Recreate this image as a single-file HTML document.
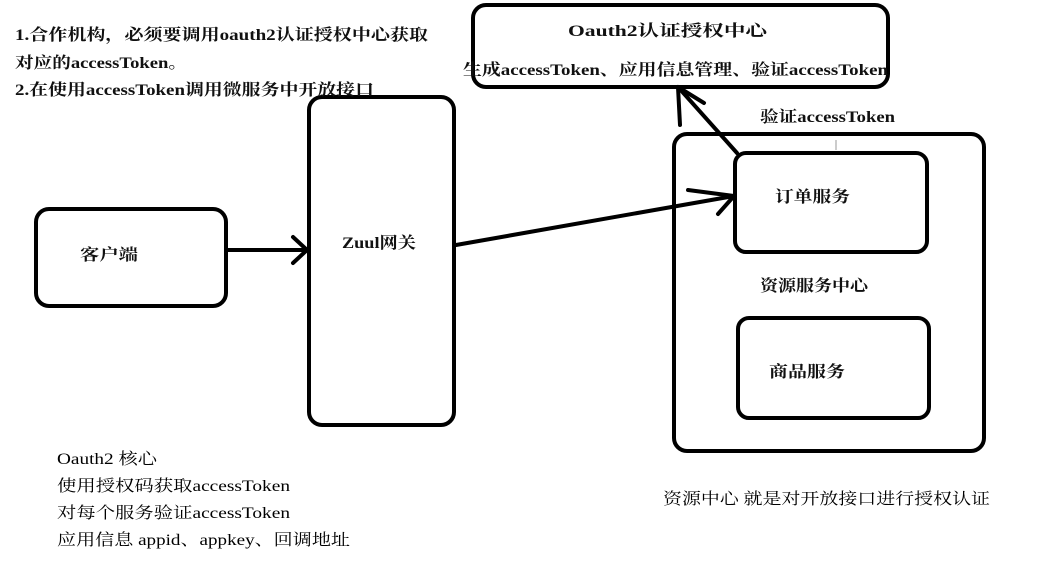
<!DOCTYPE html>
<html><head><meta charset="utf-8"><style>
html,body{margin:0;padding:0;background:#fff;width:1037px;height:564px;overflow:hidden}
text{font-family:"Liberation Serif","Noto Serif CJK SC",serif;font-size:16px;fill:#111;font-weight:bold}
.n{font-weight:normal;fill:#000}
</style></head><body>
<svg width="1037" height="564" viewBox="0 0 1037 564" xmlns="http://www.w3.org/2000/svg">
<g fill="none" stroke="#000" stroke-width="4" stroke-linecap="round">
<rect x="473" y="5" width="415" height="82" rx="13"/>
<rect x="309" y="97" width="145" height="328" rx="13"/>
<rect x="36" y="209" width="190" height="97" rx="13"/>
<rect x="674" y="134" width="310" height="317" rx="13"/>
<rect x="735" y="153" width="192" height="99" rx="11"/>
<rect x="738" y="318" width="191" height="100" rx="11"/>
<line x1="227" y1="250" x2="307" y2="250"/>
<line x1="307" y1="250" x2="293" y2="237"/>
<line x1="307" y1="250" x2="293" y2="263"/>
<line x1="456" y1="245" x2="734" y2="196"/>
<line x1="734" y1="196" x2="688" y2="190"/>
<line x1="734" y1="196" x2="718" y2="214"/>
<line x1="737" y1="153" x2="678" y2="87"/>
<line x1="678" y1="87" x2="704" y2="103"/>
<line x1="678" y1="87" x2="680" y2="125"/>
</g>
<text x="15" y="40" textLength="413" lengthAdjust="spacingAndGlyphs">1.合作机构，必须要调用oauth2认证授权中心获取</text>
<text x="15" y="68" textLength="172" lengthAdjust="spacingAndGlyphs">对应的accessToken。</text>
<text x="15" y="95" textLength="359" lengthAdjust="spacingAndGlyphs">2.在使用accessToken调用微服务中开放接口</text>
<text x="568" y="36" textLength="199" lengthAdjust="spacingAndGlyphs">Oauth2认证授权中心</text>
<text x="463" y="75" textLength="425" lengthAdjust="spacingAndGlyphs">生成accessToken、应用信息管理、验证accessToken</text>
<text x="760" y="122" textLength="135" lengthAdjust="spacingAndGlyphs">验证accessToken</text>
<text x="80" y="260" textLength="58" lengthAdjust="spacingAndGlyphs">客户端</text>
<text x="342" y="248" textLength="74" lengthAdjust="spacingAndGlyphs">Zuul网关</text>
<text x="775" y="202" textLength="75" lengthAdjust="spacingAndGlyphs">订单服务</text>
<text x="760" y="291" textLength="108" lengthAdjust="spacingAndGlyphs">资源服务中心</text>
<text x="769" y="377" textLength="76" lengthAdjust="spacingAndGlyphs">商品服务</text>
<text class="n" x="57" y="464" textLength="100" lengthAdjust="spacingAndGlyphs">Oauth2 核心</text>
<text class="n" x="57" y="491" textLength="233" lengthAdjust="spacingAndGlyphs">使用授权码获取accessToken</text>
<text class="n" x="57" y="518" textLength="233" lengthAdjust="spacingAndGlyphs">对每个服务验证accessToken</text>
<text class="n" x="57" y="545" textLength="293" lengthAdjust="spacingAndGlyphs">应用信息 appid、appkey、回调地址</text>
<text class="n" x="663" y="504" textLength="327" lengthAdjust="spacingAndGlyphs">资源中心 就是对开放接口进行授权认证</text>
<line x1="836" y1="140" x2="836" y2="150" stroke="#999" stroke-width="1"/>
</svg>
</body></html>
